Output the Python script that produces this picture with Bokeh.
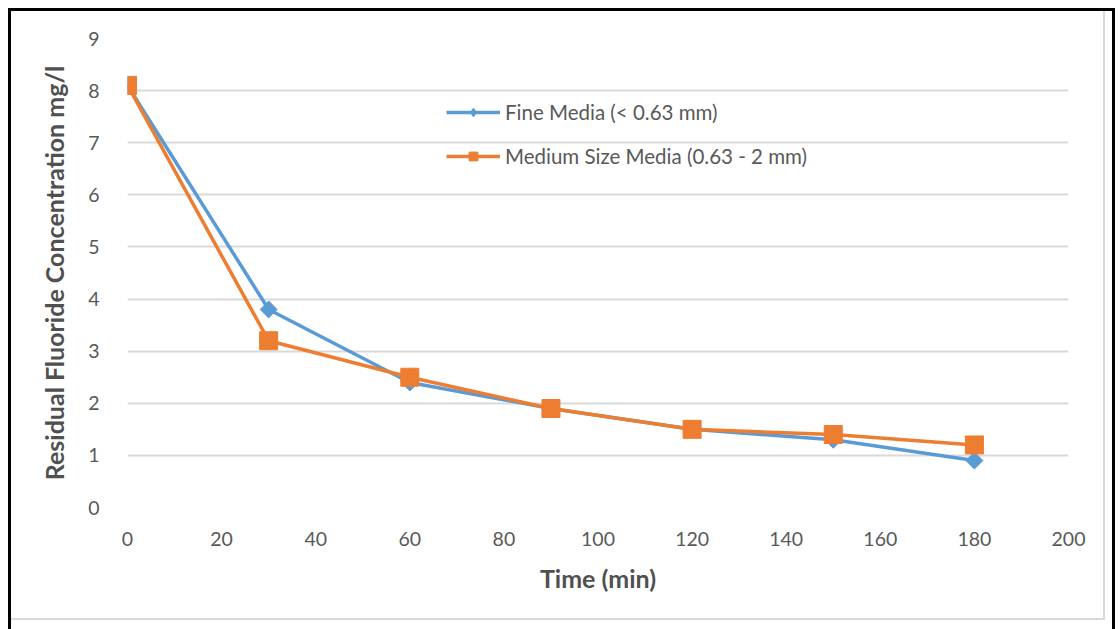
import math

from bokeh.embed import file_html
from bokeh.layouts import column
from bokeh.models import (ColumnDataSource, FixedTicker, Legend, LegendItem,
                          Range1d)
from bokeh.plotting import figure
from bokeh.resources import INLINE

# Residual fluoride over contact time for two media sizes
time_min = [0, 30, 60, 90, 120, 150, 180]
fine_media = [8.1, 3.8, 2.4, 1.9, 1.5, 1.3, 0.9]
medium_media = [8.1, 3.2, 2.5, 1.9, 1.5, 1.4, 1.2]
series_names = ["Fine Media (< 0.63 mm)", "Medium Size Media (0.63 - 2 mm)"]
x_ticks = list(range(0, 201, 20))
y_ticks = list(range(0, 10))

BLUE = "#5B9BD5"
ORANGE = "#ED7D31"
TEXT = "#595959"
TITLE = "#505050"
GRID = "#D9D9D9"
FONT = "Lato"

p = figure(
    width=1094, height=609,
    min_border_left=116, min_border_right=37,
    min_border_top=27, min_border_bottom=113,
    x_range=Range1d(0, 200), y_range=Range1d(0, 9),
    output_backend="svg", toolbar_location=None,
    background_fill_color="white", border_fill_color="white",
    styles={"border-right": f"2px solid {GRID}",
            "border-bottom": f"2px solid {GRID}"},
)
p.outline_line_color = None

# axes: labels only, no lines or ticks
for ax in (p.xaxis[0], p.yaxis[0]):
    ax.axis_line_color = None
    ax.major_tick_line_color = None
    ax.minor_tick_line_color = None
    ax.major_label_text_font = FONT
    ax.major_label_text_font_size = "19.5px"
    ax.major_label_text_color = TEXT
    ax.axis_label_text_font = FONT
    ax.axis_label_text_font_size = "25px"
    ax.axis_label_text_font_style = "bold"
    ax.axis_label_text_color = TITLE

p.xaxis.ticker = FixedTicker(ticks=x_ticks)
p.yaxis.ticker = FixedTicker(ticks=y_ticks)
p.xaxis.axis_label = "Time (min)"
p.yaxis.axis_label = "Residual Fluoride Concentration mg/l"
p.xaxis.major_label_standoff = 18
p.xaxis.axis_label_standoff = 14
p.yaxis.major_label_standoff = 22
p.yaxis.axis_label_standoff = 16

p.xgrid.grid_line_color = None
p.ygrid.grid_line_color = GRID
p.ygrid.grid_line_width = 2

src = ColumnDataSource(dict(t=time_min, fine=fine_media, medium=medium_media))

# fine media: line + diamonds
p.line("t", "fine", source=src, line_color=BLUE, line_width=3.5)
p.scatter("t", "fine", source=src, marker="square", angle=math.pi / 4,
          size=12, fill_color=BLUE, line_color=BLUE)
# medium size media: line + squares
p.line("t", "medium", source=src, line_color=ORANGE, line_width=3.5)
p.scatter("t", "medium", source=src, marker="square",
          size=18, fill_color=ORANGE, line_color=ORANGE)

# legend keys with smaller markers (no drawable data of their own)
key_src = ColumnDataSource(dict(t=[float("nan")], v=[float("nan")]))
lf = p.line("t", "v", source=key_src, line_color=BLUE, line_width=3.5)
mf = p.scatter("t", "v", source=key_src, marker="diamond",
               size=12, fill_color=BLUE, line_color=BLUE)
lm = p.line("t", "v", source=key_src, line_color=ORANGE, line_width=3.5)
mm = p.scatter("t", "v", source=key_src, marker="square",
               size=11, fill_color=ORANGE, line_color=ORANGE)

legend = Legend(
    items=[LegendItem(label=series_names[0], renderers=[lf, mf]),
           LegendItem(label=series_names[1], renderers=[lm, mm])],
    location=(319, 339),
    padding=0, margin=0, spacing=20,
    glyph_width=54, glyph_height=22, label_height=22, label_standoff=5,
    label_text_font=FONT, label_text_font_size="20.5px", label_text_color=TEXT,
    background_fill_alpha=0, border_line_color=None,
)
p.add_layout(legend, "center")

# heavy outer frame around the chart, running off the bottom of the page
page = column(p, styles={"position": "absolute", "left": "8px", "top": "8px",
                         "border": "3px solid black", "padding-right": "7px",
                         "padding-bottom": "40px", "background": "white"})

open("out.html", "w").write(file_html(page, INLINE))
